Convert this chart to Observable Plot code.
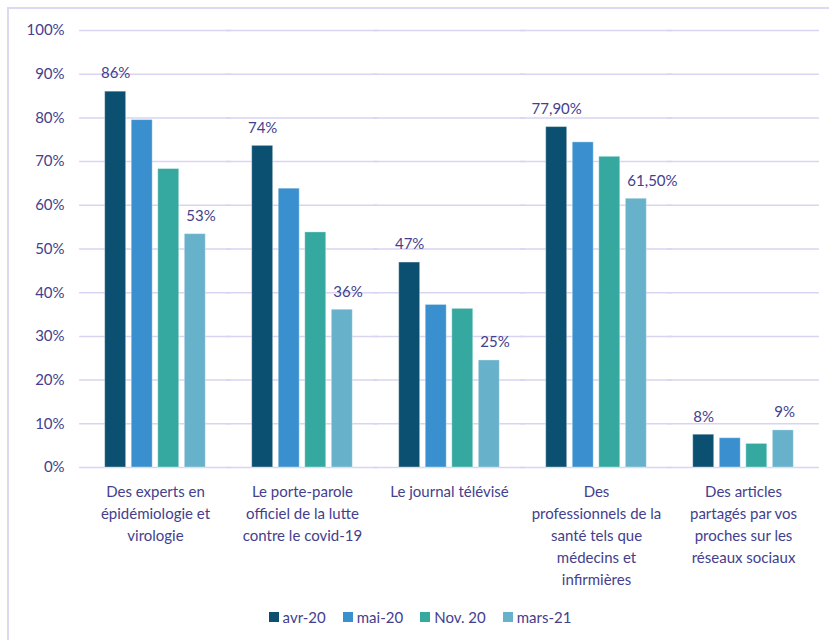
<!DOCTYPE html>
<html>
<head>
<meta charset="utf-8">
<script src="https://cdn.jsdelivr.net/npm/d3@7"></script>
<script src="https://cdn.jsdelivr.net/npm/@observablehq/plot@0.6"></script>
<style>
  html, body { margin: 0; padding: 0; background: #fff; overflow: hidden; }
  #frame { position: absolute; left: 7px; top: 7px; width: 900px; height: 700px;
           border-left: 2px solid #dcd8f2; border-top: 2px solid #dcd8f2; }
  #chart { position: absolute; left: 0; top: 0; }
  #legend { position: absolute; left: 14px; top: 600px; width: 829px; display: flex; justify-content: center; }
  #legend div, #legend span { font-family: Lato, sans-serif !important; font-size: 15px !important; color: #433e8e !important; }
  #legend .lg-swatch { margin-right: 17px !important; }
  #legend .lg-swatch > svg { margin-right: 4px !important; }
</style>
</head>
<body>
<div id="frame"></div>
<div id="chart"></div>
<div id="legend"></div>
<script>
const categories = [
  "Des experts en épidémiologie et virologie",
  "Le porte-parole officiel de la lutte contre le covid-19",
  "Le journal télévisé",
  "Des professionnels de la santé tels que médecins et infirmières",
  "Des articles partagés par vos proches sur les réseaux sociaux"
];
const categoryLines = [
  "Des experts en\népidémiologie et\nvirologie",
  "Le porte-parole\nofficiel de la lutte\ncontre le covid-19",
  "Le journal télévisé",
  "Des\nprofessionnels de la\nsanté tels que\nmédecins et\ninfirmières",
  "Des articles\npartagés par vos\nproches sur les\nréseaux sociaux"
];
const series = ["avr-20", "mai-20", "Nov. 20", "mars-21"];
const colors = ["#0b4f71", "#3a8fcf", "#35a9a0", "#67b1ca"];
const avr20  = [0.860, 0.736, 0.469, 0.779, 0.075];
const mai20  = [0.795, 0.638, 0.372, 0.744, 0.067];
const nov20  = [0.683, 0.538, 0.363, 0.711, 0.054];
const mars21 = [0.534, 0.361, 0.245, 0.615, 0.085];
const avrLabels  = ["86%", "74%", "47%", "77,90%", "8%"];
const marsLabels = ["53%", "36%", "25%", "61,50%", "9%"];
const yTicks = [0, 0.1, 0.2, 0.3, 0.4, 0.5, 0.6, 0.7, 0.8, 0.9, 1.0];
const yTickLabels = ["0%", "10%", "20%", "30%", "40%", "50%", "60%", "70%", "80%", "90%", "100%"];

const seriesValues = [avr20, mai20, nov20, mars21];
const rows = [];
categories.forEach((cat, i) => {
  series.forEach((s, j) => rows.push({cat, series: s, value: seriesValues[j][i]}));
});
const avrRows = categories.map((cat, i) => ({cat, series: series[0], value: avr20[i], label: avrLabels[i]}));
const marsRows = categories.map((cat, i) => ({cat, series: series[3], value: mars21[i], label: marsLabels[i]}));

const textColor = "#433e8e";

const chart = Plot.plot({
  width: 829,
  height: 600,
  marginLeft: 80,
  marginRight: 11,
  marginTop: 30,
  marginBottom: 133,
  style: {fontFamily: "Lato, sans-serif", background: "transparent", overflow: "visible"},
  fx: {domain: categories, paddingInner: 0.24, paddingOuter: 0.13, round: false, axis: null, label: null},
  x: {domain: series, paddingInner: 0.21, paddingOuter: 0.21, round: false, axis: null},
  y: {domain: [0, 1], axis: null},
  color: {domain: series, range: colors},
  marks: [
    Plot.ruleY(yTicks, {stroke: "#d9d4f1", strokeWidth: 1.5, insetLeft: -20, insetRight: -20}),
    Plot.axisY(yTicks, {
      tickSize: 0, tickPadding: 35, fontSize: 15, fill: textColor,
      tickFormat: d => yTickLabels[yTicks.indexOf(d)], label: null
    }),
    Plot.axisFx({
      anchor: "bottom", tickSize: 0, tickPadding: 14, fontSize: 15, lineHeight: 1.47,
      fill: textColor, label: null,
      tickFormat: d => categoryLines[categories.indexOf(d)]
    }),
    Plot.barY(rows, {fx: "cat", x: "series", y: "value", fill: "series",
      stroke: "#ffffff", strokeOpacity: 0.35, strokeWidth: 1}),
    Plot.text(avrRows, {fx: "cat", x: "series", y: "value", text: "label",
      dy: -18, fontSize: 15, fill: textColor}),
    Plot.text(marsRows, {fx: "cat", x: "series", y: "value", text: "label",
      dy: -18, dx: -9, textAnchor: "start", fontSize: 15, fill: textColor})
  ]
});
document.getElementById("chart").appendChild(chart);

const legend = Plot.legend({
  color: {domain: series, range: colors},
  swatchSize: 10,
  className: "lg",
  style: {fontSize: "15px", fontFamily: "Lato, sans-serif", color: textColor}
});
document.getElementById("legend").appendChild(legend);
</script>
</body>
</html>
